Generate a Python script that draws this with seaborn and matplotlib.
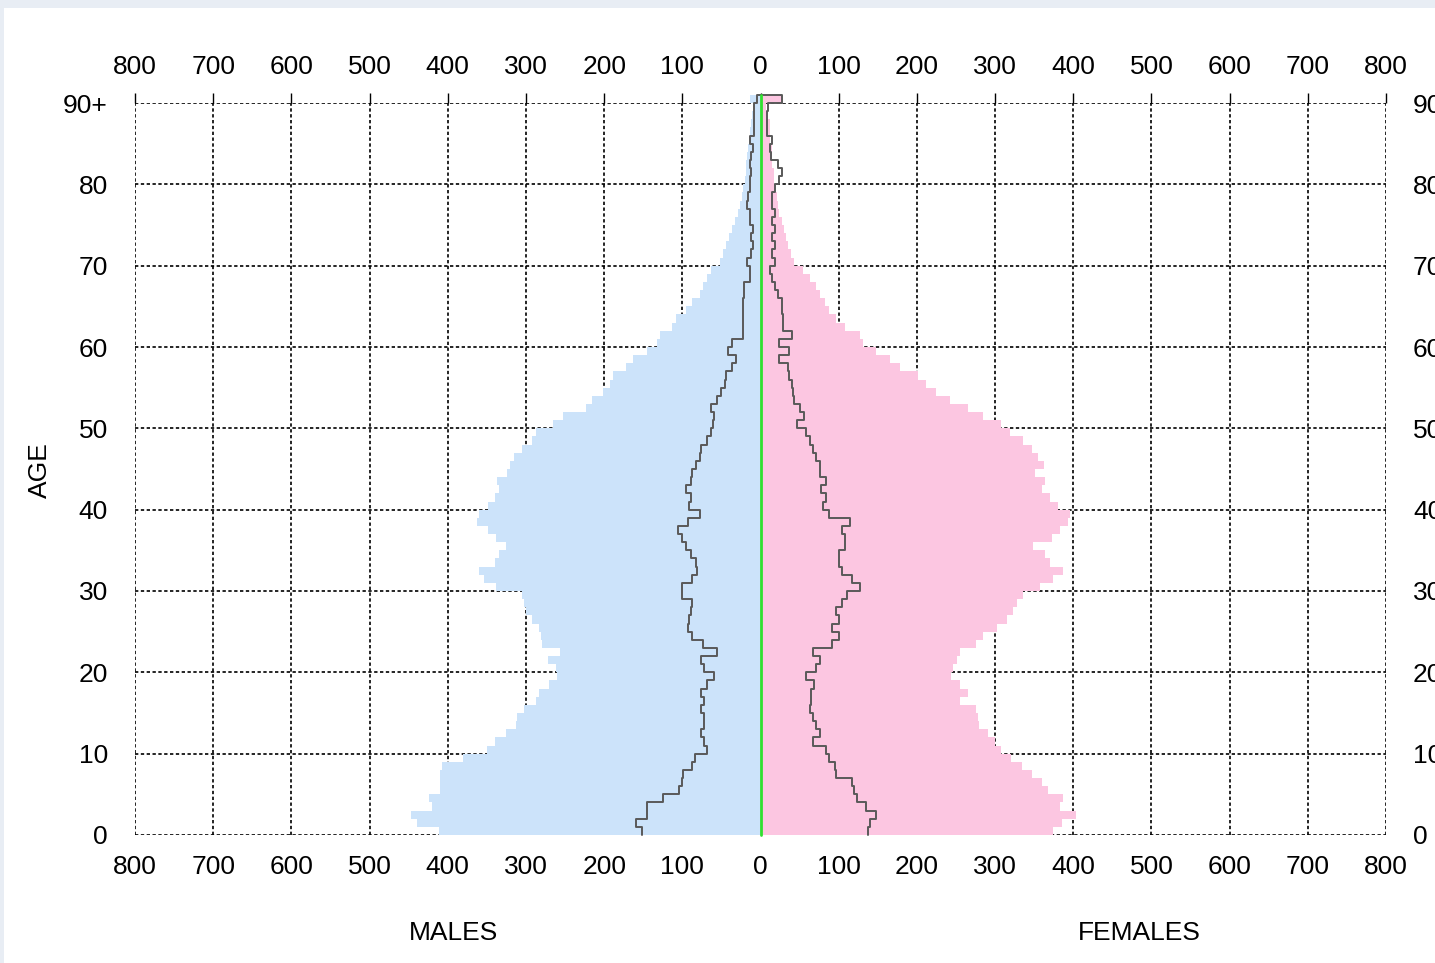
import numpy as np
import pandas as pd
import matplotlib
matplotlib.use("Agg")
import matplotlib.pyplot as plt
from matplotlib.patches import Rectangle
import seaborn as sns

# ---------------- data (ages 0 .. 90+) ----------------
ages = list(range(0, 91))
age_tick_values = [0, 10, 20, 30, 40, 50, 60, 70, 80, 90]
age_tick_labels = ["0", "10", "20", "30", "40", "50", "60", "70", "80", "90+"]
x_tick_values = [-800, -700, -600, -500, -400, -300, -200, -100, 0,
                 100, 200, 300, 400, 500, 600, 700, 800]
x_tick_labels = ["800", "700", "600", "500", "400", "300", "200", "100", "0",
                 "100", "200", "300", "400", "500", "600", "700", "800"]

males_total = [411, 439, 447, 420, 424, 410, 410, 410, 407, 381,
               350, 340, 325, 313, 311, 302, 287, 283, 270, 260,
               262, 272, 257, 279, 281, 283, 292, 300, 302, 305,
               338, 353, 360, 340, 334, 325, 338, 349, 362, 360,
               349, 340, 334, 337, 324, 320, 315, 305, 292, 287,
               266, 253, 223, 216, 202, 193, 189, 172, 163, 145,
               132, 129, 113, 108, 95, 87, 78, 74, 68, 63,
               52, 48, 44, 40, 36, 32, 29, 26, 24, 22,
               20, 19, 18, 17, 16, 15, 13, 12, 11, 10, 14]

females_total = [374, 385, 404, 383, 387, 368, 360, 347, 334, 321,
                 308, 300, 291, 280, 278, 276, 255, 265, 255, 244,
                 246, 251, 255, 276, 284, 302, 315, 323, 328, 336,
                 357, 374, 387, 370, 364, 349, 373, 383, 393, 396,
                 381, 370, 360, 364, 351, 363, 355, 347, 336, 319,
                 308, 284, 265, 242, 225, 212, 201, 178, 165, 148,
                 131, 127, 108, 97, 88, 82, 76, 71, 63, 54,
                 43, 39, 35, 33, 30, 28, 24, 23, 21, 19,
                 17, 17, 15, 15, 15, 12, 12, 12, 7, 7, 27]

males_outline = [151, 159, 145, 145, 125, 104, 101, 99, 87, 84,
                 69, 72, 76, 72, 72, 76, 72, 76, 69, 59,
                 72, 76, 56, 74, 87, 93, 91, 89, 87, 100,
                 101, 87, 81, 82, 89, 95, 100, 106, 93, 78,
                 91, 89, 95, 89, 87, 82, 78, 76, 69, 63,
                 61, 59, 63, 55, 50, 46, 44, 37, 31, 42,
                 36, 23, 23, 23, 23, 23, 21, 21, 14, 14,
                 17, 12, 10, 12, 10, 14, 14, 17, 16, 14,
                 14, 12, 14, 12, 10, 14, 8, 8, 8, 8, 4]

females_outline = [137, 140, 148, 135, 124, 120, 117, 97, 95, 88,
                   84, 67, 76, 71, 67, 63, 65, 65, 69, 58,
                   71, 76, 67, 91, 101, 92, 101, 97, 104, 111,
                   127, 117, 104, 101, 101, 108, 108, 104, 114, 88,
                   80, 84, 78, 84, 76, 76, 71, 67, 63, 58,
                   47, 56, 50, 43, 41, 40, 37, 35, 24, 37,
                   24, 40, 29, 29, 27, 27, 22, 18, 15, 12,
                   18, 15, 18, 15, 18, 15, 18, 15, 15, 18,
                   24, 27, 22, 14, 12, 15, 8, 8, 8, 9, 27]

# ---------------- style ----------------
BLUE = "#cce3fa"
PINK = "#fcc6e1"
GRAY = "#595959"
GREEN = "#2fe02f"

sns.set_style("white")
plt.rcParams["font.family"] = ["Liberation Sans", "DejaVu Sans"]
plt.rcParams["text.color"] = "black"
plt.rcParams["xtick.color"] = "black"
plt.rcParams["ytick.color"] = "black"
plt.rcParams["xtick.labelcolor"] = "black"
plt.rcParams["ytick.labelcolor"] = "black"
FS = 19

W, H = 1435, 963
fig = plt.figure(figsize=(W / 100, H / 100), dpi=100)
fig.patch.set_facecolor("white")
fig.patches.append(Rectangle((0, 1 - 8 / H), 1, 8 / H, transform=fig.transFigure,
                             facecolor="#e8edf4", edgecolor="none", zorder=-5))
fig.patches.append(Rectangle((0, 0), 4 / W, 1, transform=fig.transFigure,
                             facecolor="#e8edf4", edgecolor="none", zorder=-5))

ax = fig.add_axes([135 / W, 1 - 835 / H, (1386 - 135) / W, (835 - 103) / H])

df = pd.DataFrame({
    "age": np.array(ages, dtype=float) + 0.5,
    "male_left": -np.array(males_total, dtype=float),
    "female": np.array(females_total, dtype=float),
})

sns.histplot(data=df, y="age", weights="male_left", binwidth=1, binrange=(0, 91),
             element="bars", color=BLUE, alpha=1, linewidth=0, ax=ax, zorder=2)
sns.histplot(data=df, y="age", weights="female", binwidth=1, binrange=(0, 91),
             element="bars", color=PINK, alpha=1, linewidth=0, ax=ax, zorder=2)
for p in ax.patches:
    p.set_clip_on(False)


def outline_frame(values, sign):
    xs = [sign * v for v in values] + [sign * values[-1], 0]
    ys = list(ages) + [ages[-1] + 1, ages[-1] + 1]
    return pd.DataFrame({"x": xs, "y": ys})


for vals, sign in [(males_outline, -1), (females_outline, 1)]:
    sns.lineplot(data=outline_frame(vals, sign), x="x", y="y", sort=False,
                 estimator=None, drawstyle="steps-pre", color=GRAY,
                 linewidth=1.4, ax=ax, zorder=3, clip_on=False)

ax.axvline(0, ymin=0, ymax=91 / 90, color=GREEN, linewidth=2, zorder=4,
           clip_on=False)

ax.set_xlim(-800, 800)
ax.set_ylim(0, 90)
ax.set_axisbelow(True)
ax.grid(True, color="black", linestyle=(0, (2, 1.5)), linewidth=1.2)
for s in ax.spines.values():
    s.set_visible(False)

ax.set_xticks(x_tick_values, x_tick_labels)
ax.set_yticks(age_tick_values, age_tick_labels)
ax.tick_params(axis="x", bottom=False, top=False, labelbottom=True, labeltop=False,
               labelsize=FS, labelcolor="black", pad=11)
ax.tick_params(axis="y", left=False, right=False, labelleft=True, labelright=True,
               labelsize=FS, labelcolor="black", pad=16)
ax.set_xlabel("")
ax.set_ylabel("")

sec = ax.secondary_xaxis("top")
sec.set_xticks(x_tick_values, x_tick_labels)
sec.tick_params(axis="x", length=7, width=1, direction="out", color="black",
                labelsize=FS, labelcolor="black", pad=10)
for s in sec.spines.values():
    s.set_visible(False)

fig.text(40 / W, 1 - 470 / H, "AGE", rotation=90, ha="center", va="center",
         fontsize=FS, color="black")
fig.text(453 / W, 1 - 933 / H, "MALES", ha="center", va="center", fontsize=FS,
         color="black")
fig.text(1139 / W, 1 - 933 / H, "FEMALES", ha="center", va="center", fontsize=FS,
         color="black")

fig.savefig("out.png", dpi=100)
